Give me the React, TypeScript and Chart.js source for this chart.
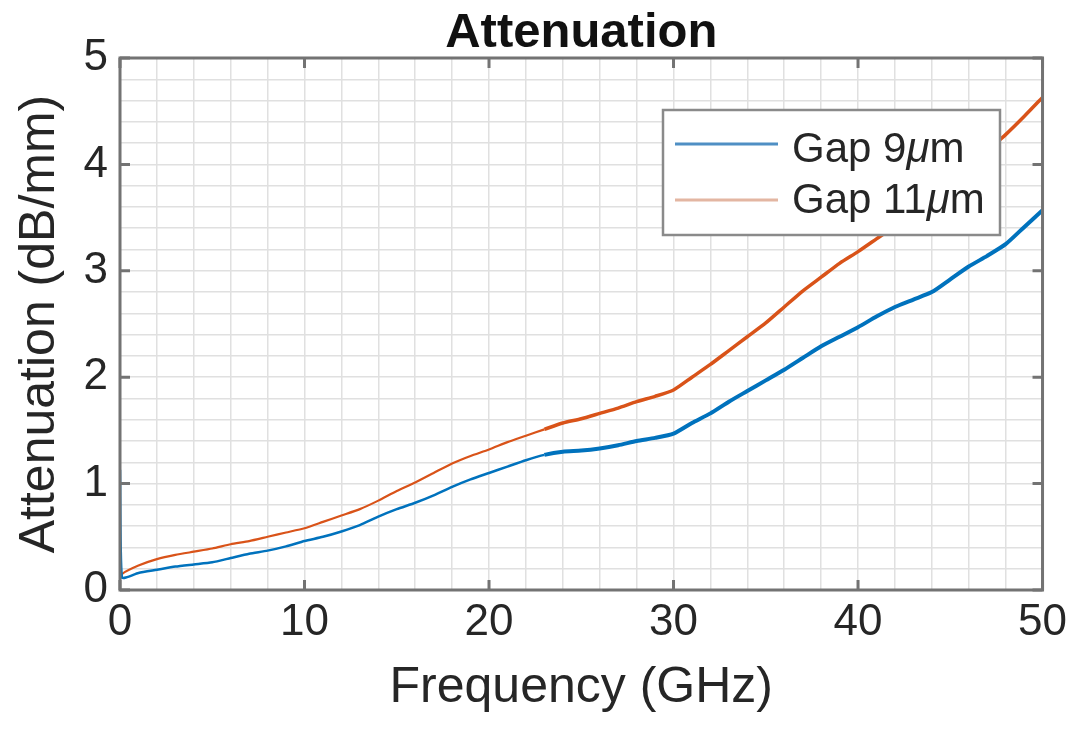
import React, { useEffect, useRef } from 'react';
import { Chart, registerables } from 'chart.js';

Chart.register(...registerables);

// Frequency axis (GHz)
const freqGHz = [
  0, 0.1, 1, 2, 3, 4, 5, 6, 7, 8, 9, 10, 11, 12, 13, 14, 15, 16, 17, 18, 19, 20,
  21, 22, 23, 24, 25, 26, 27, 28, 29, 30, 31, 32, 33, 34, 35, 36, 37, 38, 39, 40,
  41, 42, 43, 44, 45, 46, 47, 48, 49, 50,
];

// Attenuation (dB/mm), Gap 9 µm
const gap9 = [
  1.13, 0.12, 0.16, 0.19, 0.22, 0.24, 0.26, 0.30, 0.34, 0.37, 0.41, 0.46, 0.50, 0.55, 0.61, 0.69, 0.76, 0.82, 0.89, 0.97, 1.04, 1.10,
  1.16, 1.22, 1.27, 1.30, 1.31, 1.33, 1.36, 1.40, 1.43, 1.47, 1.57, 1.66, 1.77, 1.87, 1.97, 2.07, 2.18, 2.29, 2.38, 2.47,
  2.57, 2.66, 2.73, 2.80, 2.92, 3.04, 3.14, 3.25, 3.41, 3.57,
];

// Attenuation (dB/mm), Gap 11 µm
const gap11 = [
  0.10, 0.15, 0.23, 0.29, 0.33, 0.36, 0.39, 0.43, 0.46, 0.50, 0.54, 0.58, 0.64, 0.70, 0.76, 0.84, 0.93, 1.01, 1.10, 1.19, 1.26, 1.32,
  1.39, 1.45, 1.51, 1.57, 1.61, 1.66, 1.71, 1.77, 1.82, 1.88, 2.00, 2.12, 2.25, 2.38, 2.51, 2.66, 2.81, 2.94, 3.07, 3.18,
  3.30, 3.42, 3.56, 3.71, 3.85, 3.98, 4.13, 4.28, 4.45, 4.63,
];

const xMajorTicks = [0, 10, 20, 30, 40, 50];
const yMajorTicks = [0, 1, 2, 3, 4, 5];
const seriesNames = ['Gap 9', 'Gap 11'];
const seriesColors = ['#0072BD', '#D95319'];
const legendSampleColors = ['#4f8fc4', '#e3b6a2'];
const chartTitle = 'Attenuation';
const xTitle = 'Frequency (GHz)';
const yTitle = 'Attenuation (dB/mm)';

const TEXT = '#262626';
const FONT = '"Liberation Sans", Arial, Helvetica, sans-serif';

const isMajor = (v: number, majors: number[]) => majors.some((m) => Math.abs(m - v) < 1e-6);

const decorPlugin = {
  id: 'decor',
  afterDatasetsDraw(chart: any) {
    const { ctx, chartArea } = chart;
    const { left, right, top, bottom } = chartArea;
    const xs = chart.scales.x;
    const ys = chart.scales.y;
    ctx.save();
    // frame
    ctx.strokeStyle = '#737373';
    ctx.lineWidth = 3;
    ctx.strokeRect(left, top, right - left, bottom - top);
    // inward major ticks
    const tl = 10;
    xMajorTicks.forEach((v) => {
      const px = xs.getPixelForValue(v);
      ctx.beginPath();
      ctx.moveTo(px, bottom);
      ctx.lineTo(px, bottom - tl);
      ctx.moveTo(px, top);
      ctx.lineTo(px, top + tl);
      ctx.stroke();
    });
    yMajorTicks.forEach((v) => {
      const py = ys.getPixelForValue(v);
      ctx.beginPath();
      ctx.moveTo(left, py);
      ctx.lineTo(left + tl, py);
      ctx.moveTo(right, py);
      ctx.lineTo(right - tl, py);
      ctx.stroke();
    });

    // title
    ctx.fillStyle = '#111';
    ctx.font = `bold 49px ${FONT}`;
    ctx.textAlign = 'center';
    ctx.textBaseline = 'alphabetic';
    ctx.fillText(chartTitle, (left + right) / 2, 47);

    // legend
    const bx = left + 543, by = top + 52, bw = 337, bh = 125;
    ctx.fillStyle = '#ffffff';
    ctx.fillRect(bx, by, bw, bh);
    ctx.strokeStyle = '#8a8a8a';
    ctx.lineWidth = 2.5;
    ctx.strokeRect(bx, by, bw, bh);
    const rows = [
      { lineY: by + 34, base: by + 52 },
      { lineY: by + 90, base: by + 103 },
    ];
    chart.data.datasets.forEach((_ds: any, i: number) => {
      const r = rows[i];
      ctx.strokeStyle = legendSampleColors[i];
      ctx.lineWidth = 3;
      ctx.beginPath();
      ctx.moveTo(bx + 12, r.lineY);
      ctx.lineTo(bx + 115, r.lineY);
      ctx.stroke();
      let tx = bx + 129;
      ctx.fillStyle = TEXT;
      ctx.textAlign = 'left';
      ctx.textBaseline = 'alphabetic';
      ctx.font = `42px ${FONT}`;
      const main = seriesNames[i];
      ctx.fillText(main, tx, r.base);
      tx += ctx.measureText(main).width;
      ctx.font = `italic 42px ${FONT}`;
      ctx.fillText('\u03BC', tx, r.base);
      tx += ctx.measureText('\u03BC').width;
      ctx.font = `42px ${FONT}`;
      ctx.fillText('m', tx, r.base);
    });
    ctx.restore();
  },
};

export default function App() {
  const ref = useRef<HTMLCanvasElement | null>(null);
  useEffect(() => {
    if (!ref.current) return;
    const chart = new Chart(ref.current, {
      type: 'line',
      data: {
        datasets: [
          {
            label: seriesNames[0] + '\u03BCm',
            data: freqGHz.map((f, i) => ({ x: f, y: gap9[i] })),
            borderColor: seriesColors[0],
            borderWidth: 3,
            segment: { borderWidth: (c: any) => (c.p0.parsed.x >= 23 ? 4 : 2.5) },
            borderJoinStyle: 'round',
            pointRadius: 0,
            tension: 0.2,
          },
          {
            label: seriesNames[1] + '\u03BCm',
            data: freqGHz.map((f, i) => ({ x: f, y: gap11[i] })),
            borderColor: seriesColors[1],
            borderWidth: 2.5,
            segment: { borderWidth: (c: any) => (c.p0.parsed.x >= 23 ? 3.5 : 2.2) },
            borderJoinStyle: 'round',
            pointRadius: 0,
            tension: 0.2,
          },
        ],
      },
      options: {
        responsive: false,
        animation: false,
        layout: { padding: { top: 58, right: 30, bottom: 0, left: 0 } },
        plugins: {
          legend: { display: false },
          title: { display: false },
          tooltip: { enabled: false },
        },
        scales: {
          x: {
            type: 'linear',
            min: 0,
            max: 50,
            afterFit: (s: any) => { s.height = 141; },
            border: { display: false },
            grid: { color: '#e0e0e0', lineWidth: 1.5, drawTicks: false },
            ticks: {
              stepSize: 2,
              autoSkip: false,
              maxRotation: 0,
              padding: 6,
              color: TEXT,
              font: { family: FONT, size: 44 },
              callback: (v: any) => (isMajor(Number(v), xMajorTicks) ? String(Math.round(Number(v))) : ''),
            },
            title: {
              display: true,
              text: xTitle,
              color: TEXT,
              font: { family: FONT, size: 50 },
              padding: { top: 0, bottom: 13 },
            },
          },
          y: {
            type: 'linear',
            min: 0,
            max: 5,
            afterFit: (s: any) => { s.width = 120; },
            border: { display: false },
            grid: { color: '#e0e0e0', lineWidth: 1.5, drawTicks: false },
            ticks: {
              stepSize: 0.2,
              autoSkip: false,
              padding: 12,
              color: TEXT,
              font: { family: FONT, size: 44 },
              callback: (v: any) => (isMajor(Number(v), yMajorTicks) ? String(Math.round(Number(v))) : ''),
            },
            title: {
              display: true,
              text: yTitle,
              color: TEXT,
              font: { family: FONT, size: 50 },
              padding: { top: 10, bottom: 0 },
            },
          },
        },
      },
      plugins: [decorPlugin],
    });
    return () => chart.destroy();
  }, []);
  return (
    <canvas
      ref={ref}
      width={1073}
      height={731}
      style={{ position: 'fixed', left: 0, top: 0, display: 'block', background: '#fff' }}
    />
  );
}
